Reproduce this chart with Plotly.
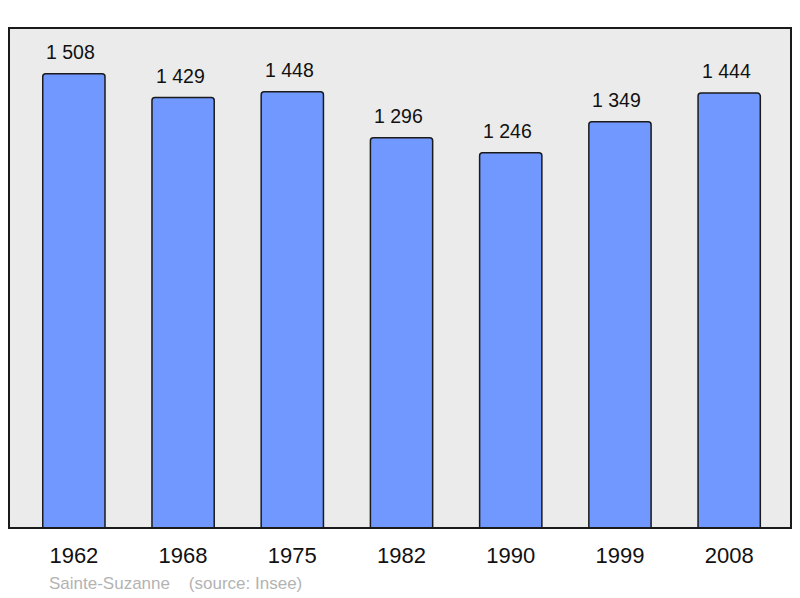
import plotly.graph_objects as go

years = ["1962", "1968", "1975", "1982", "1990", "1999", "2008"]
population = [1508, 1429, 1448, 1296, 1246, 1349, 1444]
labels = [f"{v:,}".replace(",", " ") for v in population]

# page body has an 8px default margin; compensate
W, H = 792, 590
ml, mr, mt, mb = 1, 9, 20, 70

fig = go.Figure()
fig.add_trace(go.Bar(
    x=years, y=population,
    width=0.57,
    marker=dict(color="#7198ff", line=dict(color="#1a1a1a", width=1.5), cornerradius=3),
    hoverinfo="skip",
))

for i, (v, t) in enumerate(zip(population, labels)):
    fig.add_annotation(x=i, y=v, text=t, showarrow=False, yanchor="bottom", yshift=9, xshift=-3,
                       font=dict(family="Liberation Sans, Arial", size=19.5, color="#111111"))

fig.add_annotation(xref="paper", yref="paper", x=(39 - ml) / (W - ml - mr), y=-0.11,
                   xanchor="left", yanchor="middle", showarrow=False,
                   text="Sainte-Suzanne &nbsp;&nbsp; (source: Insee)",
                   font=dict(family="Liberation Sans, Arial", size=17, color="#b3b3b3"))

fig.add_shape(type="rect", xref="paper", yref="paper", x0=0, y0=0, x1=1, y1=1,
              line=dict(color="#1a1a1a", width=2), layer="above")

fig.update_layout(
    width=W, height=H,
    margin=dict(l=ml, r=mr, t=mt, b=mb, autoexpand=False),
    paper_bgcolor="white", plot_bgcolor="#ebebeb",
    showlegend=False,
    xaxis=dict(type="category", range=[-0.594, 6.566], showgrid=False, zeroline=False, showline=False,
               ticks="outside", ticklen=8, tickcolor="rgba(0,0,0,0)",
               tickfont=dict(family="Liberation Sans, Arial", size=22, color="#111111")),
    yaxis=dict(range=[0, 1660], showgrid=False, zeroline=False, showticklabels=False, showline=False),
)

fig.write_html("out.html")
